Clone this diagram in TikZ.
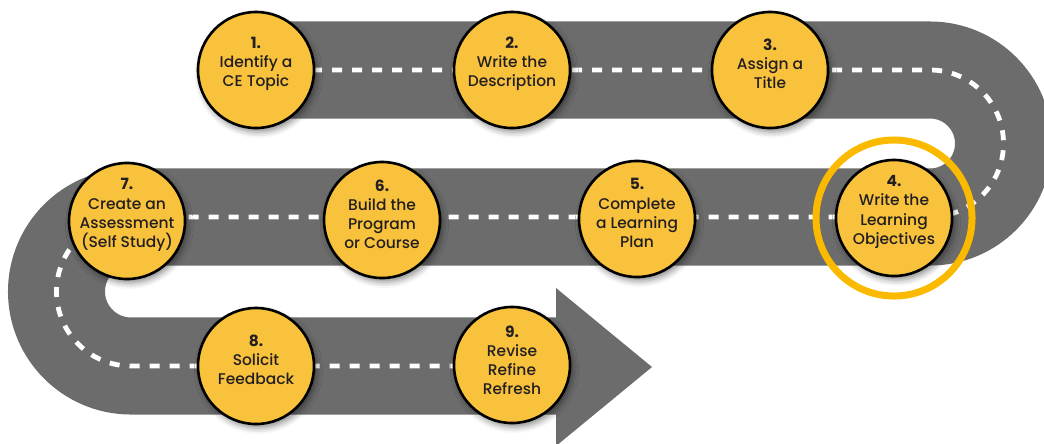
\documentclass[tikz,border=0pt]{standalone}
\usepackage{fontspec}
\setsansfont{Poppins}[UprightFont=* Medium, BoldFont=* Bold]
\usepackage{tikz}
\usetikzlibrary{shadows.blur}
\definecolor{roadgray}{HTML}{6C6C6C}
\definecolor{stopyellow}{HTML}{F9C23C}
\definecolor{ringgold}{HTML}{FBBA00}
\definecolor{textdark}{HTML}{231F20}

\begin{document}
\begin{tikzpicture}[x=0.025cm, y=0.025cm,
        road/.style={draw=roadgray, line width=2.425cm},
        lane/.style={draw=white, line width=0.12cm, dash pattern=on 0.25cm off 0.25cm},
        stopcircle/.style={circle, draw=black, line width=0.065cm, fill=stopyellow, minimum size=2.9cm, inner sep=0pt,
            blur shadow={shadow xshift=0.06cm, shadow yshift=-0.1cm, shadow blur radius=0.15cm, shadow opacity=45}},
        stoptext/.style={align=center, text=textdark, inner sep=0pt, font=\sffamily\fontsize{11}{13.6}\selectfont},
        goalring/.style={circle, draw=ringgold, line width=0.175cm, minimum size=3.9cm, inner sep=0pt}]
        \useasboundingbox (0,0) rectangle (1044,-443);
        \clip (0,0) rectangle (1044,-443);

        % road
        \draw[road] (290,-70) -- (930,-70) arc[start angle=90, end angle=-90, radius=73.5]
            -- (131,-217) arc[start angle=90, end angle=270, radius=74.5] -- (560,-366);
        \fill[roadgray] (556,-288) -- (652,-367) -- (556,-446) -- cycle;
        \draw[lane] (312,-70) -- (930,-70) arc[start angle=90, end angle=-90, radius=73.5]
            -- (131,-217) arc[start angle=90, end angle=270, radius=74.5] -- (530,-366);

        % stops
        \node[stopcircle] (c1) at (256,-70) {};
        \node[stopcircle] (c2) at (512,-70) {};
        \node[stopcircle] (c3) at (770,-70) {};
        \node[stopcircle] (c4) at (894,-218) {};
        \node[stopcircle] (c5) at (637,-219) {};
        \node[stopcircle] (c6) at (382,-220) {};
        \node[stopcircle] (c7) at (127,-221) {};
        \node[stopcircle] (c8) at (256,-366) {};
        \node[stopcircle] (c9) at (512,-365) {};
        \node[goalring] (r4) at (c4) {};

        \node[stoptext] (t1) at ([yshift=0.15cm]c1.center) {\textbf{1.}\\Identify a\\CE Topic};
        \node[stoptext] (t2) at ([yshift=0.15cm]c2.center) {\textbf{2.}\\Write the\\Description};
        \node[stoptext] (t3) at ([yshift=0.15cm]c3.center) {\textbf{3.}\\Assign a\\Title};
        \node[stoptext] (t4) at ([yshift=0.15cm]c4.center) {\textbf{4.}\\Write the\\Learning\\Objectives};
        \node[stoptext] (t5) at ([yshift=0.15cm]c5.center) {\textbf{5.}\\Complete\\a Learning\\Plan};
        \node[stoptext] (t6) at ([yshift=0.15cm]c6.center) {\textbf{6.}\\Build the\\Program\\or Course};
        \node[stoptext] (t7) at ([yshift=0.15cm]c7.center) {\textbf{7.}\\Create an\\Assessment\\(Self Study)};
        \node[stoptext] (t8) at ([yshift=0.15cm]c8.center) {\textbf{8.}\\Solicit\\Feedback};
        \node[stoptext] (t9) at ([yshift=0.12cm]c9.center) {\textbf{9.}\\Revise\\Refine\\Refresh};
    \end{tikzpicture}
\end{document}
